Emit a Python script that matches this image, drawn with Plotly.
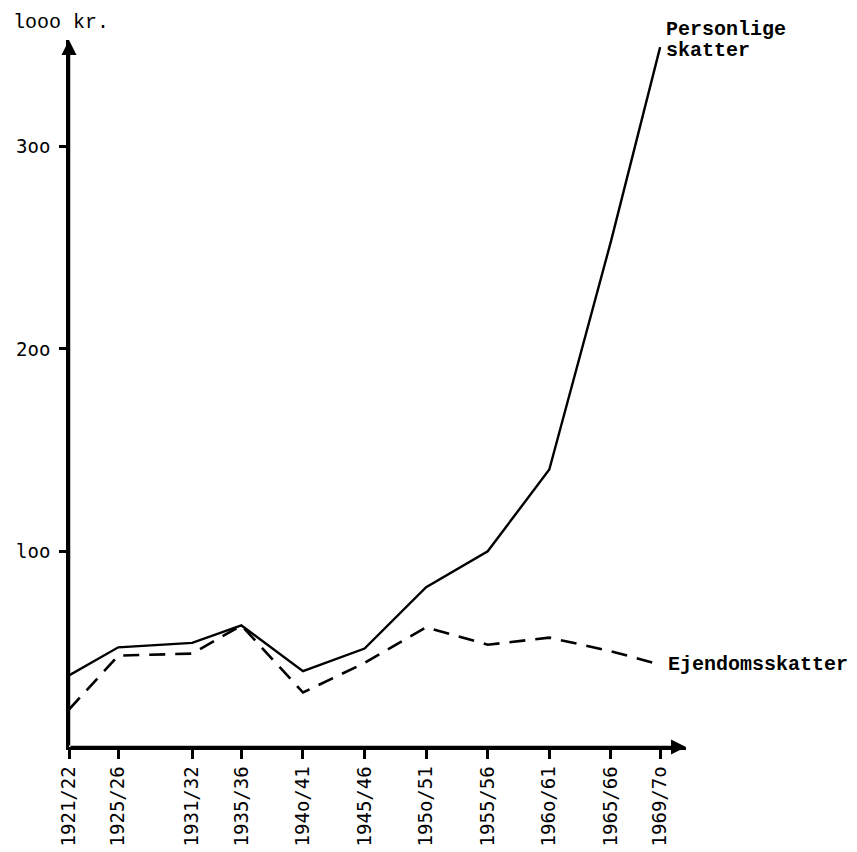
import plotly.graph_objects as go

# Fiscal years (first year used for positioning) and their labels
years = [1921, 1925, 1931, 1935, 1940, 1945, 1950, 1955, 1960, 1965, 1969]
year_labels = ["1921/22", "1925/26", "1931/32", "1935/36", "194o/41", "1945/46",
               "195o/51", "1955/56", "196o/61", "1965/66", "1969/7o"]

# Tax revenue, 1000 kr.
personlige = [38.8, 52.7, 54.9, 63.5, 40.9, 52.1, 82.4, 100.1, 140.5, 253, 349]
ejendom = [22, 48.6, 49.6, 63.5, 30.4, 45, 62.6, 54, 57.5, 50.8, 44.2]

y_ticks = [100, 200, 300]
y_tick_labels = ["loo", "2oo", "3oo"]

TYPE_FONT = "Liberation Mono"
LABEL_FONT = "DejaVu Sans Mono"

fig = go.Figure()
fig.add_trace(go.Scatter(
    x=years, y=personlige, mode="lines", name="Personlige skatter",
    line=dict(color="black", width=2.4), showlegend=False, cliponaxis=False))
fig.add_trace(go.Scatter(
    x=years, y=ejendom, mode="lines", name="Ejendomsskatter",
    line=dict(color="black", width=2.6, dash="16px,10px"), showlegend=False,
    cliponaxis=False))

x_lo, x_hi = 1921, 1971.1
y_lo, y_hi = 3.5, 352.5

fig.update_xaxes(
    range=[x_lo, x_hi], tickvals=years, ticktext=year_labels, tickangle=-90,
    showline=True, linecolor="black", linewidth=2.5, ticks="outside",
    ticklen=9, tickwidth=2.5, tickcolor="black", showgrid=False, zeroline=False,
    ticklabelstandoff=0, automargin=False,
    tickfont=dict(family=LABEL_FONT, size=19, color="black"))
fig.update_yaxes(
    range=[y_lo, y_hi], tickvals=y_ticks, ticktext=y_tick_labels,
    showline=True, linecolor="black", linewidth=2.5, ticks="outside",
    ticklen=7, tickwidth=2.5, tickcolor="black", showgrid=False, zeroline=False,
    ticklabelstandoff=5, automargin=False,
    tickfont=dict(family=LABEL_FONT, size=19, color="black"))

label_font = dict(family=TYPE_FONT, size=20, color="black")
annotations = [
    # axes drawn as arrows from the origin
    dict(xref="x", yref="y", x=x_lo, y=y_hi, axref="x", ayref="y",
         ax=x_lo, ay=y_lo, showarrow=True, arrowhead=2, arrowsize=1.2,
         arrowwidth=2.5, arrowcolor="black", text=""),
    dict(xref="x", yref="y", x=x_hi, y=y_lo, axref="x", ayref="y",
         ax=x_lo, ay=y_lo, showarrow=True, arrowhead=2, arrowsize=1.2,
         arrowwidth=2.5, arrowcolor="black", text=""),
    # unit label
    dict(xref="paper", yref="paper", x=0, y=1, xshift=-58, yshift=18,
         xanchor="left", yanchor="middle", showarrow=False, text="looo kr.",
         font=label_font),
    # series labels
    dict(xref="x", yref="y", x=years[-1], y=personlige[-1], xshift=4, yshift=18,
         xanchor="left", yanchor="middle", showarrow=False,
         text="<b>Personlige</b>", font=label_font),
    dict(xref="x", yref="y", x=years[-1], y=personlige[-1], xshift=4, yshift=-3,
         xanchor="left", yanchor="middle", showarrow=False,
         text="<b>skatter</b>", font=label_font),
    dict(xref="x", yref="y", x=years[-1], y=ejendom[-1], xshift=6,
         xanchor="left", yanchor="middle", showarrow=False,
         text="<b>Ejendomsskatter</b>", font=label_font),
]

fig.update_layout(
    width=857, height=852,
    margin=dict(l=69, r=171, t=40, b=105),
    plot_bgcolor="white", paper_bgcolor="white",
    annotations=annotations,
)

fig.write_html("out.html")
